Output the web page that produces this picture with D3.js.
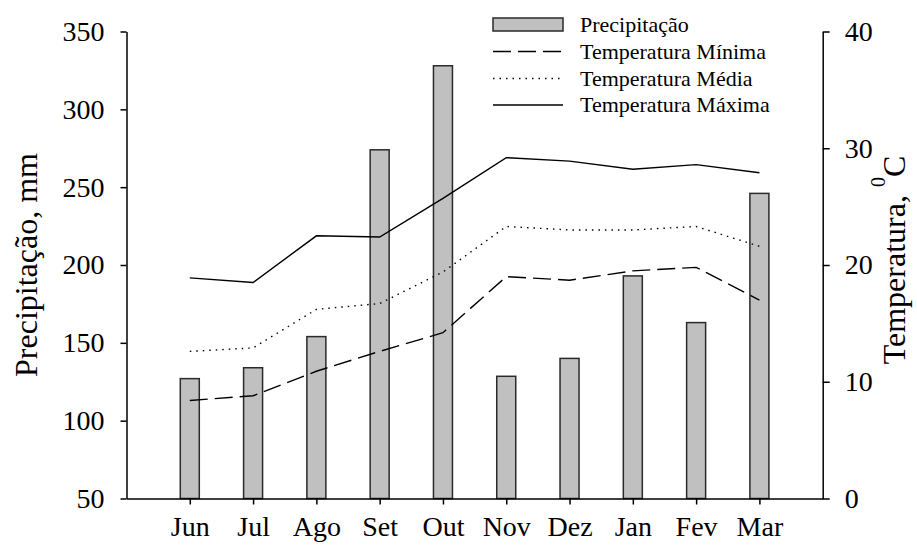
<!DOCTYPE html>
<html>
<head>
<meta charset="utf-8">
<script src="https://cdn.jsdelivr.net/npm/d3@7"></script>
<style>
  html, body { margin: 0; padding: 0; background: #fff; }
  svg { display: block; font-family: "Liberation Serif", "Times New Roman", serif; }
</style>
</head>
<body>
<script>
// Monthly climate data: rainfall (bars, left axis) and temperatures (lines, right axis)
const months = ["Jun", "Jul", "Ago", "Set", "Out", "Nov", "Dez", "Jan", "Fev", "Mar"];
const precipitacao = [127, 134, 154, 274, 328, 128.5, 140, 193, 163, 246];
const tempMinima = [8.4, 8.8, 10.9, 12.6, 14.2, 19.0, 18.7, 19.5, 19.8, 17.0];
const tempMedia = [12.6, 12.9, 16.2, 16.7, 19.4, 23.3, 23.0, 23.0, 23.3, 21.6];
const tempMaxima = [18.9, 18.5, 22.5, 22.4, 25.7, 29.2, 28.9, 28.2, 28.6, 27.9];
const precipTicks = [50, 100, 150, 200, 250, 300, 350];
const tempTicks = [0, 10, 20, 30, 40];
const legendItems = [
  { label: "Precipitação", kind: "bar" },
  { label: "Temperatura Mínima", kind: "line", dash: "18,7" },
  { label: "Temperatura Média", kind: "line", dash: "1.5,5" },
  { label: "Temperatura Máxima", kind: "line", dash: null }
];

const W = 917, H = 549;
const plotLeft = 126.5, plotRight = 822.7, plotTop = 31.5, plotBottom = 498.5;

const svg = d3.select("body").append("svg").attr("width", W).attr("height", H);

const x = d3.scaleLinear().domain([0, months.length + 1]).range([plotLeft, plotRight]);
const yP = d3.scaleLinear().domain([50, 350]).range([plotBottom, plotTop]);
const yT = d3.scaleLinear().domain([0, 40]).range([plotBottom, plotTop]);

const barW = 19;

// Bars
svg.append("g").selectAll("rect")
  .data(precipitacao)
  .join("rect")
  .attr("x", (d, i) => x(i + 1) - barW / 2)
  .attr("y", d => yP(d))
  .attr("width", barW)
  .attr("height", d => yP(50) - yP(d))
  .attr("fill", "#c0c0c0")
  .attr("stroke", "#2a2a2a")
  .attr("stroke-width", 1.5);

// Temperature lines
const line = d3.line().x((d, i) => x(i + 1)).y(d => yT(d));
const series = [
  { values: tempMinima, dash: "18,7" },
  { values: tempMedia, dash: "1.5,5" },
  { values: tempMaxima, dash: null }
];
svg.append("g").selectAll("path")
  .data(series)
  .join("path")
  .attr("d", d => line(d.values))
  .attr("fill", "none")
  .attr("stroke", "#000")
  .attr("stroke-width", 1.4)
  .attr("stroke-dasharray", d => d.dash);

// Axes
function styleAxis(g, size) {
  g.selectAll("path, line").attr("stroke", "#000").attr("stroke-width", 1.5);
  g.selectAll("text").attr("fill", "#000").style("font-size", size + "px")
    .style("font-family", '"Liberation Serif", "Times New Roman", serif');
}

svg.append("g")
  .attr("transform", `translate(0,${plotBottom})`)
  .call(d3.axisBottom(x)
    .tickValues(d3.range(1, months.length + 1))
    .tickFormat(i => months[i - 1])
    .tickSize(6).tickSizeOuter(0).tickPadding(12))
  .call(g => styleAxis(g, 28));

svg.append("g")
  .attr("transform", `translate(${plotLeft},0)`)
  .call(d3.axisLeft(yP).tickValues(precipTicks).tickSize(6).tickSizeOuter(0).tickPadding(16))
  .call(g => styleAxis(g, 28));

svg.append("g")
  .attr("transform", `translate(${plotRight},0)`)
  .call(d3.axisRight(yT).tickValues(tempTicks).tickSize(7).tickSizeOuter(0).tickPadding(15))
  .call(g => styleAxis(g, 28));

// Axis titles
svg.append("text")
  .attr("transform", `translate(37,265) rotate(-90)`)
  .attr("text-anchor", "middle")
  .style("font-size", "32px")
  .text("Precipitação, mm");

const tTitle = svg.append("text")
  .attr("transform", `translate(905,260) rotate(-90)`)
  .attr("text-anchor", "middle")
  .style("font-size", "32px");
tTitle.append("tspan").text("Temperatura, ");
tTitle.append("tspan").style("font-size", "20px").attr("dy", -20).text("0");
tTitle.append("tspan").attr("dy", 20).text("C");

// Legend
const lg = svg.append("g").attr("transform", "translate(493,0)");
const rowY = [24.5, 51.5, 78.5, 105];
legendItems.forEach((item, i) => {
  const cy = rowY[i];
  if (item.kind === "bar") {
    lg.append("rect").attr("x", 0).attr("y", cy - 6.5).attr("width", 70).attr("height", 13)
      .attr("fill", "#c0c0c0").attr("stroke", "#2a2a2a").attr("stroke-width", 1.5);
  } else {
    lg.append("line").attr("x1", 0).attr("x2", 70).attr("y1", cy).attr("y2", cy)
      .attr("stroke", "#000").attr("stroke-width", 1.4)
      .attr("stroke-dasharray", item.dash);
  }
  lg.append("text").attr("x", 87).attr("y", cy + 7)
    .style("font-size", "22px").text(item.label);
});
</script>
</body>
</html>
